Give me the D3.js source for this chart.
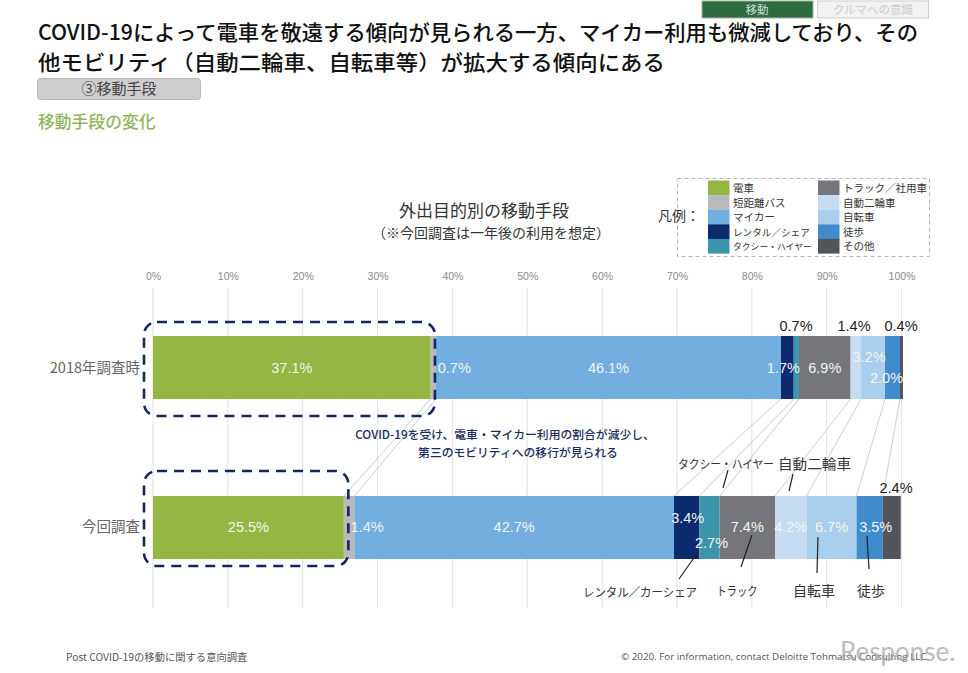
<!DOCTYPE html>
<html lang="ja">
<head>
<meta charset="utf-8">
<title>移動手段の変化</title>
<script src="https://cdn.jsdelivr.net/npm/d3@7"></script>
<style>
  html, body { margin: 0; padding: 0; background: #fff; }
  svg { display: block; }
  text { font-family: "Noto Sans CJK JP", "Noto Sans", sans-serif; }
  .num { font-family: "Liberation Sans", sans-serif; }
</style>
</head>
<body>
<svg id="chart" width="968" height="673"></svg>
<script>
(function () {
  // data
  var rows = ["2018年調査時", "今回調査"];
  var modes = ["電車", "短距離バス", "マイカー", "レンタル／シェア", "タクシー・ハイヤー", "トラック／社用車", "自動二輪車", "自転車", "徒歩", "その他"];
  var share_2018 = [37.1, 0.7, 46.1, 1.7, 0.7, 6.9, 1.4, 3.2, 2.0, 0.4];
  var share_now = [25.5, 1.4, 42.7, 3.4, 2.7, 7.4, 4.2, 6.7, 3.5, 2.4];
  var tick_values = [0, 10, 20, 30, 40, 50, 60, 70, 80, 90, 100];
  var colors = ["#93b742", "#b9babc", "#72afe0", "#0c2a6e", "#3d95ab", "#75767b", "#c5dcf3", "#a9cfec", "#3f8bcb", "#53555c"];

  var svg = d3.select("#chart");
  var x = d3.scaleLinear().domain([0, 100]).range([153, 901.5]);
  var y = d3.scaleBand().domain(rows).range([336, 559]).paddingInner(0.606);
  var bar_h = y.bandwidth();

  var table = rows.map(function (r, i) {
    var o = { row: r };
    var vals = i == 0 ? share_2018 : share_now;
    modes.forEach(function (m, j) { o[m] = vals[j]; });
    return o;
  });
  var stacked = d3.stack().keys(modes)(table);

  function seg(row_i, mode_i) { return stacked[mode_i][row_i]; }
  function mid(row_i, mode_i) { return x((seg(row_i, mode_i)[0] + seg(row_i, mode_i)[1]) / 2); }

  // header
  svg.append("rect").attr("x", 702).attr("y", 1).attr("width", 111).attr("height", 17).attr("fill", "#2e6b41").attr("stroke", "#9db5a4");
  svg.append("text").attr("x", 757).attr("y", 14).attr("text-anchor", "middle").attr("font-size", 11.5).attr("fill", "#cfe0d4").text("移動");
  svg.append("rect").attr("x", 817.5).attr("y", 1).attr("width", 111).attr("height", 17).attr("fill", "#f2f2f2").attr("stroke", "#cfcfcf");
  svg.append("text").attr("x", 873).attr("y", 14).attr("text-anchor", "middle").attr("font-size", 11.5).attr("fill", "#cccccc").text("クルマへの意識");

  svg.append("text").attr("x", 38).attr("y", 40).attr("font-size", 21).attr("font-weight", 500).attr("fill", "#111")
    .attr("textLength", 880).attr("lengthAdjust", "spacingAndGlyphs")
    .text("COVID-19によって電車を敬遠する傾向が見られる一方、マイカー利用も微減しており、その");
  svg.append("text").attr("x", 38).attr("y", 70).attr("font-size", 21).attr("font-weight", 500).attr("fill", "#111")
    .attr("textLength", 627).attr("lengthAdjust", "spacingAndGlyphs")
    .text("他モビリティ（自動二輪車、自転車等）が拡大する傾向にある");

  svg.append("rect").attr("x", 37.5).attr("y", 78.5).attr("width", 163).attr("height", 21).attr("rx", 3)
    .attr("fill", "#cfcdce").attr("stroke", "#b9b7b8");
  svg.append("text").attr("x", 119).attr("y", 94).attr("text-anchor", "middle").attr("font-size", 15).attr("fill", "#444").text("③移動手段");
  svg.append("text").attr("x", 38).attr("y", 128).attr("font-size", 16.8).attr("font-weight", 500).attr("fill", "#8fb55e").text("移動手段の変化");

  // chart title
  svg.append("text").attr("x", 484).attr("y", 217).attr("text-anchor", "middle").attr("font-size", 17).attr("fill", "#333").text("外出目的別の移動手段");
  svg.append("text").attr("x", 491).attr("y", 238).attr("text-anchor", "middle").attr("font-size", 14).attr("fill", "#333").text("（※今回調査は一年後の利用を想定）");

  // legend
  svg.append("rect").attr("x", 677.5).attr("y", 178.5).attr("width", 252).attr("height", 78)
    .attr("fill", "none").attr("stroke", "#b5b5b5").attr("stroke-dasharray", "4 3");
  svg.append("text").attr("x", 658).attr("y", 221).attr("font-size", 14).attr("fill", "#333").text("凡例：");
  var legend = svg.append("g").selectAll("g").data(modes).join("g")
    .attr("transform", function (d, i) {
      return "translate(" + (i < 5 ? 708 : 818) + "," + (180.5 + (i % 5) * 14.6) + ")";
    });
  legend.append("rect").attr("width", 21.5).attr("height", 14.7).attr("fill", function (d, i) { return colors[i]; });
  legend.append("text").attr("x", 25).attr("y", 11.5)
    .attr("font-size", function (d, i) { return i == 4 ? 8.8 : i == 3 ? 9.6 : 10.5; })
    .attr("fill", "#333").text(function (d) { return d; });

  // axis on top, grid lines run through the plot
  var axis = d3.axisTop(x).tickValues(tick_values).tickFormat(function (d) { return d + "%"; }).tickSize(0);
  var ax = svg.append("g").attr("transform", "translate(0,279)").call(axis);
  ax.select(".domain").remove();
  ax.selectAll("text").attr("class", "num").attr("dy", 4).attr("font-size", 10.5).attr("fill", "#8a8a8a");

  svg.append("g").selectAll("line").data(tick_values).join("line")
    .attr("x1", function (d) { return x(d); }).attr("x2", function (d) { return x(d); })
    .attr("y1", 288).attr("y2", 608)
    .attr("stroke", "#e6e6e6").attr("stroke-width", 1.2);

  // connectors between the two bars
  svg.append("g").selectAll("line").data(modes.slice(0, 9)).join("line")
    .attr("x1", function (d, i) { return x(seg(0, i)[1]); })
    .attr("x2", function (d, i) { return x(seg(1, i)[1]); })
    .attr("y1", y(rows[0]) + bar_h).attr("y2", y(rows[1]))
    .attr("stroke", "#cfcfcf").attr("stroke-width", 1);

  // bars
  svg.append("g").selectAll("g").data(stacked).join("g")
    .attr("fill", function (d, i) { return colors[i]; })
    .selectAll("rect").data(function (d) { return d; }).join("rect")
    .attr("x", function (d) { return x(d[0]); })
    .attr("y", function (d) { return y(d.data.row); })
    .attr("width", function (d) { return x(d[1]) - x(d[0]); })
    .attr("height", bar_h);

  // row labels
  svg.append("g").selectAll("text").data(rows).join("text")
    .attr("x", 140).attr("y", function (d) { return y(d) + bar_h / 2 + 5; })
    .attr("text-anchor", "end").attr("font-size", 14.5).attr("fill", "#666").text(function (d) { return d; });

  // value labels, nudged by hand where the segments are too thin
  var nudge = [
    [[0, 0], [21, 0], [0, 0], [-4, 0], null, [0, 0], null, [-4, -11], [-6, 10], null],
    [[0, 0], [18, 0], [0, 0], [1, -9], [2, 16], [0, 0], [0, 0], [0, 0], [6, 0], null]
  ];
  table.forEach(function (t, ri) {
    modes.forEach(function (m, mi) {
      var n = nudge[ri][mi];
      if (!n) return;
      svg.append("text").attr("class", "num")
        .attr("x", mid(ri, mi) + n[0])
        .attr("y", y(rows[ri]) + bar_h / 2 + 5 + n[1])
        .attr("text-anchor", "middle").attr("font-size", 14.5).attr("fill", "#f2f5ee")
        .text(t[m].toFixed(1) + "%");
    });
  });
  // thin segments are labelled above the bar
  var above = [[0, 4, 796], [0, 6, 854], [0, 9, 901], [1, 9, 896]];
  above.forEach(function (a) {
    var ty = a[0] == 0 ? y(rows[0]) - 5 : y(rows[1]) - 3;
    svg.append("text").attr("class", "num").attr("x", a[2]).attr("y", ty)
      .attr("text-anchor", "middle").attr("font-size", 14.5).attr("fill", "#222")
      .text(table[a[0]][modes[a[1]]].toFixed(1) + "%");
  });

  // dashed frames around the rail share
  [[0, 1], [1, 1]].forEach(function (f) {
    var x0 = x(0) - 9, x1 = x(seg(f[0], f[1])[1]) + (f[0] == 0 ? -1 : -6);
    var top = y(rows[f[0]]) - 14 - (f[0] == 1 ? 11 : 0);
    svg.append("rect").attr("x", x0).attr("y", top)
      .attr("width", x1 - x0).attr("height", y(rows[f[0]]) + bar_h + 7 + (f[0] == 0 ? 10 : 0) - top)
      .attr("rx", 13).attr("fill", "none").attr("stroke", "#14275f")
      .attr("stroke-width", 2.6).attr("stroke-dasharray", "10 7");
  });

  // callout
  svg.append("text").attr("x", 505).attr("y", 439).attr("text-anchor", "middle").attr("font-size", 11.8).attr("font-weight", 500).attr("fill", "#1b2c60")
    .text("COVID-19を受け、電車・マイカー利用の割合が減少し、");
  svg.append("text").attr("x", 518).attr("y", 457).attr("text-anchor", "middle").attr("font-size", 11.8).attr("font-weight", 500).attr("fill", "#1b2c60")
    .text("第三のモビリティへの移行が見られる");

  // named leaders on the lower bar
  var notes = [
    { text: "タクシー・ハイヤー", tx: 726, ty: 469, size: 12, w: 96, x1: 728, y1: 470, x2: 723, y2: 488 },
    { text: "自動二輪車", tx: 814.5, ty: 469, size: 13.5, w: 73, x1: 793, y1: 474, x2: 789, y2: 491 },
    { text: "レンタル／カーシェア", tx: 640, ty: 597, size: 12, w: 114, x1: 698, y1: 552, x2: 679, y2: 579 },
    { text: "トラック", tx: 737, ty: 596, size: 12, w: 41, x1: 752, y1: 535, x2: 741, y2: 567 },
    { text: "自転車", tx: 814, ty: 596, size: 13.5, w: 42, x1: 818, y1: 537, x2: 817, y2: 573 },
    { text: "徒歩", tx: 871, ty: 596, size: 13.5, w: 28, x1: 867, y1: 536, x2: 869, y2: 569 }
  ];
  var note = svg.append("g").selectAll("g").data(notes).join("g");
  note.append("line")
    .attr("x1", function (d) { return d.x1; }).attr("y1", function (d) { return d.y1; })
    .attr("x2", function (d) { return d.x2; }).attr("y2", function (d) { return d.y2; })
    .attr("stroke", "#222").attr("stroke-width", 1.2);
  note.append("text")
    .attr("x", function (d) { return d.tx; }).attr("y", function (d) { return d.ty; })
    .attr("text-anchor", "middle").attr("font-size", function (d) { return d.size; }).attr("fill", "#333")
    .attr("textLength", function (d) { return d.w; }).attr("lengthAdjust", "spacingAndGlyphs")
    .text(function (d) { return d.text; });

  // footer
  svg.append("text").attr("x", 66).attr("y", 661).attr("font-size", 10.3).attr("fill", "#555").text("Post COVID-19の移動に関する意向調査");
  svg.append("text").attr("x", 621).attr("y", 660).attr("font-size", 9.8).attr("fill", "#555")
    .style("font-family", "Open Sans")
    .text("© 2020. For information, contact Deloitte Tohmatsu Consulting LLC.");
  svg.append("text").attr("x", 840).attr("y", 661).attr("font-size", 26).attr("fill", "#9a9a9a").attr("opacity", 0.65)
    .style("font-family", "Lato").text("Response.");
})();
</script>
</body>
</html>
